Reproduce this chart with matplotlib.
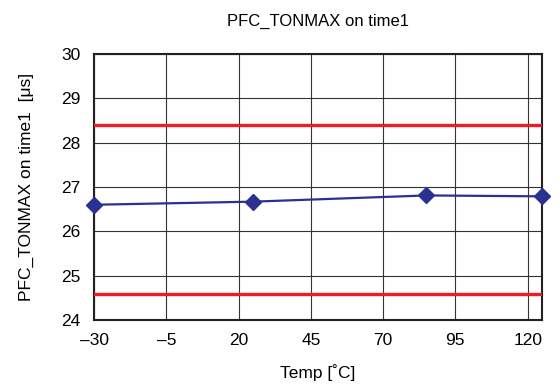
import matplotlib.pyplot as plt

plt.rcParams['font.family'] = ['Liberation Sans', 'DejaVu Sans']

temps = [-30, 25, 85, 125]
tonmax = [26.60, 26.67, 26.81, 26.79]
upper_limit = 28.4
lower_limit = 24.6
xticks = [-30, -5, 20, 45, 70, 95, 120]
xtick_labels = ['\u201330', '\u20135', '20', '45', '70', '95', '120']
yticks = [24, 25, 26, 27, 28, 29, 30]

fig = plt.figure(figsize=(5.6, 3.9), dpi=100)
ax = fig.add_axes([0.168, 0.179, 0.800, 0.683])

ax.axhline(upper_limit, color='#ee1c25', lw=2.4, zorder=3)
ax.axhline(lower_limit, color='#ee1c25', lw=2.4, zorder=3)
ax.plot(temps, tonmax, color='#2b3190', lw=1.6, marker='D', markersize=8,
        clip_on=False, zorder=4)

ax.set_xlim(-30, 125)
ax.set_ylim(24, 30)
ax.set_xticks(xticks)
ax.set_xticklabels(xtick_labels)
ax.set_yticks(yticks)
ax.grid(True, color='#333333', lw=0.8)
ax.tick_params(length=0, labelsize=12.5)
ax.tick_params(axis='y', pad=10)
ax.tick_params(axis='x', pad=9)
for s in ax.spines.values():
    s.set_linewidth(1.5)
    s.set_color('#222222')

ax.set_title('PFC_TONMAX on time1', fontsize=12, pad=20)
ax.set_xlabel('Temp [\u02daC]', fontsize=12.5, labelpad=12)
ax.set_ylabel('PFC_TONMAX on time1  [\u03bcs]', fontsize=12.5, labelpad=19)

fig.savefig('out.png', dpi=100)
